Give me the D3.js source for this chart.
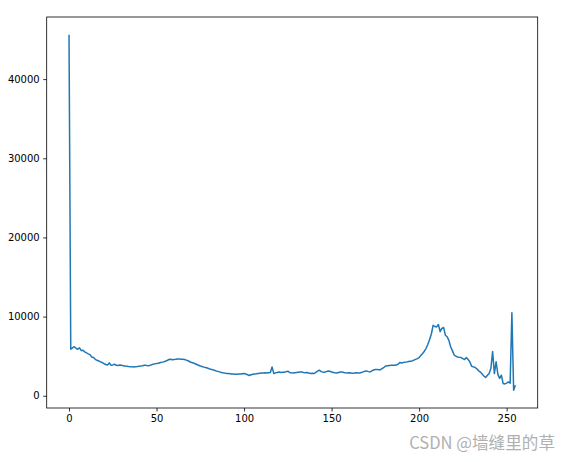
<!DOCTYPE html>
<html>
<head>
<meta charset="utf-8">
<script src="https://cdn.jsdelivr.net/npm/d3@7"></script>
<style>
  body { margin: 0; background: #fff; }
  svg text { font-family: "DejaVu Sans", sans-serif; }
</style>
</head>
<body>
<svg width="571" height="462"></svg>
<script>
// grey level histogram, counts per bin 0..255
var counts = [
  45600, 5880, 6050, 6200, 6000, 5880, 6050, 5700, 5760, 5550,
  5420, 5300, 5200, 4900, 4830, 4600, 4480, 4400, 4280, 4200,
  4050, 3950, 3900, 4150, 3860, 3900, 3980, 3850, 3820, 3880,
  3860, 3780, 3750, 3730, 3700, 3680, 3650, 3640, 3680, 3700,
  3730, 3760, 3800, 3860, 3840, 3800, 3820, 3900, 3980, 4030,
  4070, 4100, 4180, 4250, 4280, 4350, 4450, 4580, 4620, 4560,
  4580, 4600, 4640, 4660, 4620, 4600, 4580, 4500, 4420, 4300,
  4200, 4150, 4050, 3950, 3850, 3770, 3700, 3620, 3560, 3500,
  3420, 3350, 3300, 3220, 3140, 3080, 3020, 2950, 2900, 2860,
  2820, 2800, 2780, 2760, 2740, 2720, 2730, 2750, 2740, 2780,
  2800, 2760, 2650, 2560, 2650, 2720, 2750, 2780, 2820, 2850,
  2870, 2880, 2900, 2880, 2920, 2930, 3640, 2800, 2900, 2950,
  3010, 2950, 2980, 2970, 3050, 3100, 2950, 2900, 2880, 2920,
  2950, 2980, 3000, 3010, 2950, 2900, 2950, 2880, 2820, 2850,
  2800, 2950, 3100, 3230, 3050, 3000, 2970, 3050, 3120, 3100,
  3000, 2950, 2900, 2880, 2950, 3000, 3010, 2950, 2900, 2880,
  2900, 2880, 2850, 2870, 2900, 2880, 2880, 2950, 3020, 3100,
  3140, 3050, 3010, 3150, 3250, 3310, 3320, 3300, 3300, 3450,
  3600, 3770, 3800, 3820, 3840, 3850, 3860, 3880, 4000, 4200,
  4150, 4200, 4250, 4280, 4320, 4360, 4400, 4500, 4600, 4700,
  4830, 5100, 5350, 5630, 6000, 6500, 7100, 7800, 8900, 8750,
  8700, 9000, 8100, 8500, 8620, 7650, 7450, 7000, 6200, 5700,
  5150, 5000, 4900, 4850, 4830, 4700, 4580, 4830, 4580, 4280,
  3730, 3650, 3570, 3400, 3150, 3000, 2750, 2500, 2300, 2600,
  2800, 3440, 5600, 2800, 4300, 2700, 2200, 2600, 1540, 1500,
  1600, 1750, 1580, 10500, 700, 1330
];
var xTicks = [0, 50, 100, 150, 200, 250];
var yTicks = [0, 10000, 20000, 30000, 40000];
var watermark = "CSDN @墙缝里的草";

var svg = d3.select("svg");
var plotLeft = 46.7, plotRight = 537.7, plotTop = 17, plotBottom = 408;

// matplotlib style 5% margins
var xMin = 0, xMax = counts.length - 1;
var xPad = (xMax - xMin) * 0.05;
var yMin = d3.min(counts), yMax = d3.max(counts);
var yPad = (yMax - yMin) * 0.05;

var x = d3.scaleLinear().domain([xMin - xPad, xMax + xPad]).range([plotLeft, plotRight]);
var y = d3.scaleLinear().domain([yMin - yPad, yMax + yPad]).range([plotBottom, plotTop]);

var line = d3.line()
    .x(function (d, i) { return x(i); })
    .y(function (d) { return y(d); });

svg.append("path")
    .datum(counts)
    .attr("fill", "none")
    .attr("stroke", "#1f77b4")
    .attr("stroke-width", 1.5)
    .attr("stroke-linejoin", "round")
    .attr("d", line);

var xAxis = svg.append("g")
    .attr("transform", "translate(0," + plotBottom + ")")
    .call(d3.axisBottom(x).tickValues(xTicks).tickSize(3.5).tickPadding(3.5).tickSizeOuter(0));
var yAxis = svg.append("g")
    .attr("transform", "translate(" + plotLeft + ",0)")
    .call(d3.axisLeft(y).tickValues(yTicks).tickSize(3.5).tickPadding(3.5).tickFormat(d3.format("d")).tickSizeOuter(0));

[xAxis, yAxis].forEach(function (g) {
    g.select(".domain").remove();
    g.selectAll(".tick line").attr("stroke", "#000").attr("stroke-width", 0.8);
    g.selectAll(".tick text").attr("fill", "#000").style("font-size", "10px").style("font-family", "DejaVu Sans");
});

// frame
svg.append("rect")
    .attr("x", plotLeft).attr("y", plotTop)
    .attr("width", plotRight - plotLeft).attr("height", plotBottom - plotTop)
    .attr("fill", "none")
    .attr("stroke", "#000")
    .attr("stroke-width", 0.8);

svg.append("text")
    .attr("x", 555).attr("y", 449)
    .attr("text-anchor", "end")
    .attr("fill", "#b0b0b0")
    .style("font-family", "'Noto Sans CJK SC', sans-serif")
    .style("font-size", "16.6px")
    .text(watermark);
</script>
</body>
</html>
